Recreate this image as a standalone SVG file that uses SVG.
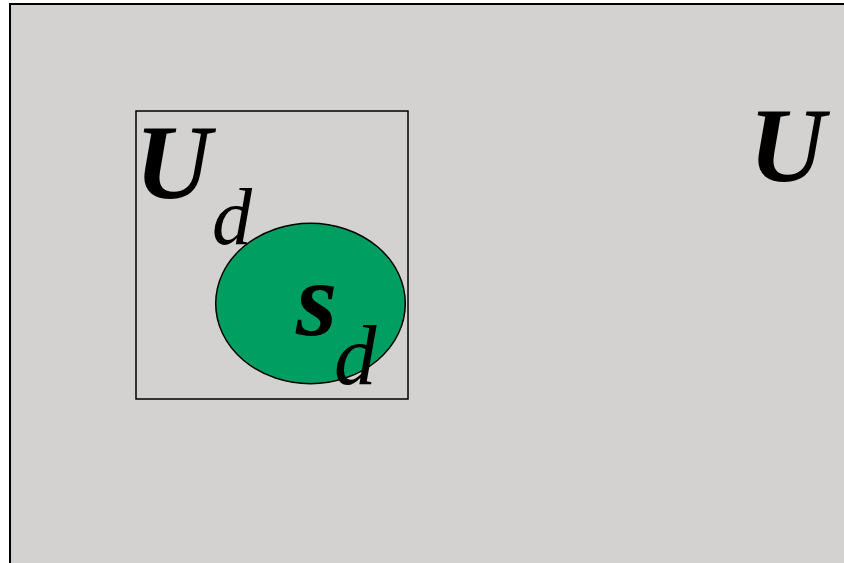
<svg xmlns="http://www.w3.org/2000/svg" width="844" height="563" viewBox="0 0 844 563">
<style>
.t{font-family:"Liberation Serif","Times New Roman",serif;fill:#000;font-style:italic}
.b{font-weight:bold}
</style>
<rect x="0" y="0" width="844" height="563" fill="#ffffff"/>
<g id="universe">
<rect x="10" y="4" width="850" height="580" fill="#d3d2d0" stroke="#000" stroke-width="2"/>
<text class="t b" x="749" y="181" font-size="106">U</text>
</g>
<g id="domain">
<rect x="136" y="111" width="272" height="288" fill="none" stroke="#000" stroke-width="1.5"/>
<text class="t b" x="135" y="198" font-size="106">U</text>
<text class="t" x="212" y="244" font-size="80">d</text>
</g>
<g id="subset">
<ellipse cx="310.5" cy="303.5" rx="94.8" ry="80.2" fill="#009e60" stroke="#000" stroke-width="1.5"/>
<text class="t b" x="296" y="335" font-size="106">s</text>
<text class="t" x="334" y="384" font-size="85">d</text>
</g>
</svg>
